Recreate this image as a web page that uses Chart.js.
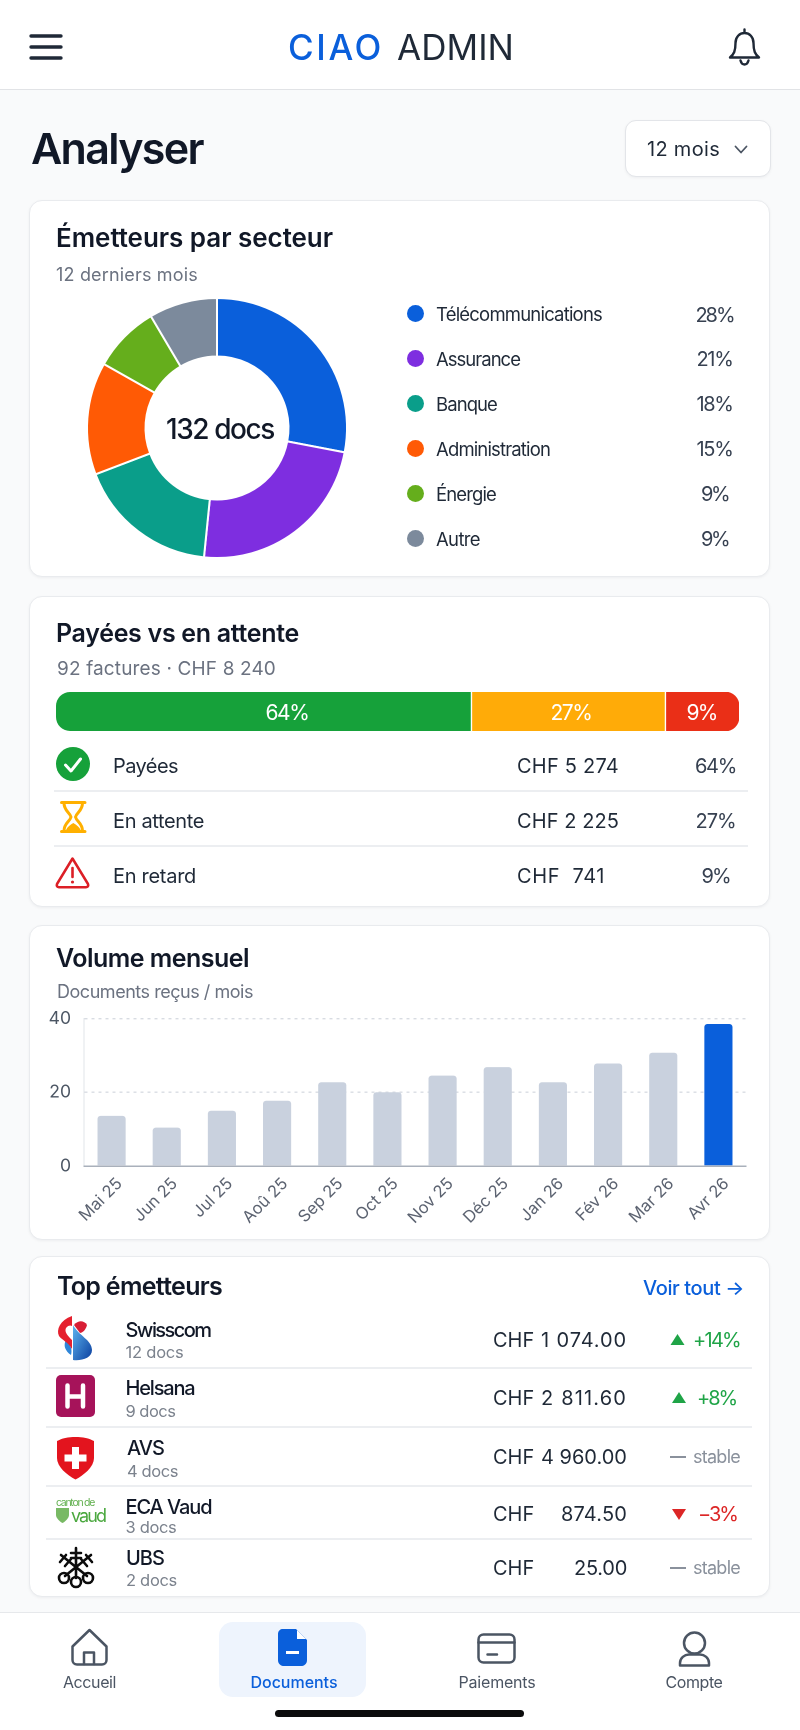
<!DOCTYPE html>
<html lang="fr"><head><meta charset="utf-8"><title>Analyser</title>
<script src="https://cdn.jsdelivr.net/npm/chart.js@4"></script>
<style>
html,body{margin:0;padding:0;background:#f9fafb;}
#page{position:relative;width:800px;height:1730px;overflow:hidden;background:#f9fafb;font-family:Inter,"Noto Sans",sans-serif;}
.box{position:absolute;box-sizing:border-box;}
.card{background:#fff;border:1px solid #e9ebee;border-radius:13px;box-shadow:0 1px 3px rgba(17,24,39,.05);}
.t{position:absolute;white-space:pre;line-height:1;}
canvas{position:absolute;display:block;}
svg{position:absolute;left:0;top:0;}
</style></head><body><div id="page">
<div class="box" style="left:0;top:0;width:800px;height:90px;background:#fff;border-bottom:1.5px solid #e1e3e6"></div>
<div class="box card" style="left:625px;top:120px;width:146px;height:57px;border-radius:11px;border-color:#e3e5e9"></div>
<div class="box card" style="left:29px;top:200px;width:741px;height:377px"></div>
<div class="box card" style="left:29px;top:596px;width:741px;height:311px"></div>
<div class="box card" style="left:29px;top:925px;width:741px;height:315px"></div>
<div class="box card" style="left:29px;top:1256px;width:741px;height:341px"></div>
<div class="box" style="left:0;top:1612px;width:800px;height:118px;background:#fff;border-top:1.5px solid #e6e8eb"></div>
<div class="box" style="left:219px;top:1622px;width:147px;height:75px;background:#eef4fd;border-radius:14px"></div>
<div class="box" style="left:275px;top:1710px;width:249px;height:7px;background:#0b0b0c;border-radius:4px"></div>
<div class="box" style="left:54px;top:790px;width:694px;height:1.5px;background:#eceef1"></div>
<div class="box" style="left:54px;top:845px;width:694px;height:1.5px;background:#eceef1"></div>
<div class="box" style="left:46px;top:1367px;width:706px;height:1.5px;background:#eceef1"></div>
<div class="box" style="left:46px;top:1426px;width:706px;height:1.5px;background:#eceef1"></div>
<div class="box" style="left:46px;top:1485px;width:706px;height:1.5px;background:#eceef1"></div>
<div class="box" style="left:46px;top:1538px;width:706px;height:1.5px;background:#eceef1"></div>

<canvas id="donut" width="270" height="270" style="left:82px;top:293px;width:270px;height:270px"></canvas>
<canvas id="split" width="683" height="39" style="left:56px;top:692px;width:683px;height:39px"></canvas>
<canvas id="volume" width="720" height="240" style="left:40px;top:995px;width:720px;height:240px"></canvas>

<svg width="800" height="1730" viewBox="0 0 800 1730" fill="none">
 <defs><linearGradient id="sw" x1="0" y1="0" x2="1" y2="1"><stop offset="0" stop-color="#5db4ef"/><stop offset="1" stop-color="#0b3f9f"/></linearGradient></defs>
 <g stroke="#1f2937" stroke-width="3.4" stroke-linecap="round"><path d="M31 36H61M31 47H61M31 58H61"/></g>
 <g stroke="#1f2937" stroke-width="2.4" stroke-linecap="round" stroke-linejoin="round">
  <path d="M744.5 29.5v3.5M735.5 43c0-6 4-10 9-10s9 4 9 10c0 8 1.500 11 5.500 14.500h-29c4-3.500 5.500-6.500 5.500-14.500z"/>
  <path d="M740.500 60.500c.8 3 2.500 4 4 4s3.200-1 4-4"/>
 </g>
 <path d="M735.500 146.500l5.500 6 5.500-6" stroke="#4b5563" stroke-width="1.800" stroke-linecap="round" stroke-linejoin="round"/>
 <circle cx="73" cy="764" r="17" fill="#16a13a"/>
 <path d="M65.500 765l5.500 6 9.500-12" stroke="#fff" stroke-width="3" stroke-linecap="round" stroke-linejoin="round"/>
 <g stroke="#ffb000" stroke-width="3" stroke-linecap="round" stroke-linejoin="round">
  <path d="M61.500 802.500H85M61.500 831.500H85"/>
  <path d="M64 803c0 8 6 9.500 7 14 -1 4.500-7 6-7 14M82.500 803c0 8-6 9.500-7 14 1 4.500 7 6 7 14"/>
 </g>
 <path d="M66 830c1-3 4-5 7.300-7 3.300 2 6.300 4 7.300 7z" fill="#ffb000"/>
 <path d="M72.500 858.500L88 884c.8 1.800-.2 3.200-2 3.200H59c-1.800 0-2.800-1.400-2-3.200z" stroke="#dc1f26" stroke-width="2.500" stroke-linejoin="round"/>
 <path d="M72.500 868v9" stroke="#dc1f26" stroke-width="2.600" stroke-linecap="round"/><circle cx="72.500" cy="882" r="1.600" fill="#dc1f26"/>
 <path d="M73 1325C79 1336 92 1340 92 1350 92 1358 82 1361 73 1360Z" fill="url(#sw)"/>
 <path d="M66 1340C72 1345 72 1351 71 1355 65 1351 63 1345 66 1340Z" fill="#2f86d8"/>
 <path d="M72 1316C60 1320 56 1330 59 1336 62 1340 68 1342 72 1349V1340C68 1336 64 1332 66 1328 68 1325 71 1325 72 1326Z" fill="#e5202e"/>
 <path d="M74 1325C78 1320 84 1320 87 1325 86 1330 82 1333 80 1333Z" fill="#d81e35"/>
 <rect x="56" y="1375" width="39" height="42" rx="5" fill="#a6135a"/>
 <path d="M67.500 1385.500V1406.500M83 1385.500V1406.500M67.500 1396.500H83" stroke="#fff" stroke-width="4.500" stroke-linecap="round"/>
 <path d="M57 1441C66 1435.500 85 1435.500 94 1441V1458C94 1467 84 1475 75.500 1479.500 67 1475 57 1467 57 1458Z" fill="#e3141e"/>
 <path d="M75.500 1447V1469M64.500 1458H86.500" stroke="#fff" stroke-width="7"/>
 <path d="M56 1508H69V1515C69 1518 65 1522 62.500 1523 60 1522 56 1518 56 1515Z" fill="#78b964"/>
 <g stroke="#0c0c0c" stroke-width="2.600" stroke-linecap="round">
  <path d="M76 1548V1578M61 1555L87 1576M91 1555L65 1576"/>
  <path d="M71 1553H81M71 1558H81M60 1562L66 1555M65 1566L71 1559M92 1562L86 1555M87 1566L81 1559"/>
  <circle cx="76" cy="1582" r="5"/><circle cx="64" cy="1578" r="5"/><circle cx="88" cy="1578" r="5"/>
 </g>
 <g stroke="#4b5563" stroke-width="2.500" stroke-linecap="round" stroke-linejoin="round">
  <path d="M89.500 1630L72.500 1646.500V1660c0 2.500 1.800 4.500 4.500 4.500h25c2.700 0 4.500-2 4.500-4.500V1646.500z"/>
  <path d="M84 1664V1652.500H94V1664"/>
  <rect x="478.500" y="1634.500" width="36" height="28" rx="5"/><path d="M478.500 1642.500H514.500M487.500 1654.500H497"/>
  <circle cx="694.500" cy="1643" r="10.500"/>
  <path d="M680 1665.500V1663c0-5 4.500-8.500 9-8.500h11c4.500 0 9 3.500 9 8.500v2.500z"/>
 </g>
 <path d="M283 1629H296L307 1640V1660C307 1664 304 1666 301 1666H284C281 1666 278 1664 278 1660V1634C278 1631 280 1629 283 1629Z" fill="#0a5fdb"/>
 <path d="M297 1630L306 1639H297Z" fill="#fff"/>
 <path d="M286 1652.500H299" stroke="#fff" stroke-width="3"/>
</svg>
<div id="texts"></div>
</div>
<script>
/* ---------- data ---------- */
const sectorLabels = ['Télécommunications','Assurance','Banque','Administration','Énergie','Autre'];
const sectorPercentLabels = ['28%','21%','18%','15%','9%','9%'];
const sectorDrawnShares = [28, 23.6, 17.6, 14, 8.3, 8.5];
const sectorColors = ['#0a5fdb','#7e2ee0','#0a9e8a','#ff5a05','#65ae1c','#7c8a9c'];

const statusLabels = ['Payées','En attente','En retard'];
const statusAmounts = ['CHF 5 274','CHF 2 225','CHF  741'];
const statusPercentLabels = ['64%','27%','9%'];
const statusDrawnShares = [60.9, 28.4, 10.7];
const statusColors = ['#16a13a','#ffab08','#ea2f17'];

const months = ['Mai 25','Jun 25','Jul 25','Aoû 25','Sep 25','Oct 25','Nov 25','Déc 25','Jan 26','Fév 26','Mar 26','Avr 26'];
const docsPerMonth = [13.6,10.4,15,17.7,22.7,20,24.5,26.8,22.7,27.8,30.7,38.5];
const yTicks = [0,20,40];

const issuers = ['Swisscom','Helsana','AVS','ECA Vaud','UBS'];
const issuerDocs = ['12 docs','9 docs','4 docs','3 docs','2 docs'];
const issuerAmounts = ['1 074.00','2 811.60','4 960.00','874.50','25.00'];
const issuerTrends = ['+14%','+8%','stable','−3%','stable'];

/* ---------- text helper: x + target width ---------- */
const host = document.getElementById('texts');
function T(s,x,cy,size,weight,color,w,anchor){
  const e=document.createElement('div');e.className='t';e.textContent=s;
  e.style.fontSize=size+'px';e.style.fontWeight=weight;e.style.color=color;
  e.style.top=(cy-size/2)+'px';e.style.left='0px';host.appendChild(e);
  if(w){const m=e.getBoundingClientRect().width;e.style.letterSpacing=((w-m)/s.length)+'px';}
  const W=e.getBoundingClientRect().width;
  e.style.left=(anchor==='c'?x-W/2:anchor==='r'?x-W:x)+'px';
  return e;
}
const INK='#111827',DARK='#1f2937',GREY='#6b7280',BLUE='#0a5fdb';
T('CIAO',288,47,35,500,BLUE,96);
T('ADMIN',397,47,35,400,DARK,117);
T('Analyser',31,148,43,600,INK,172);
T('12 mois',647,149,20,400,DARK,73);

T('Émetteurs par secteur',56,238,26,600,INK,277);
T('12 derniers mois',56,275,18,400,GREY,142);
T('132 docs',220,429,28,500,INK,108,'c');
const legendY=[314.5,359,404,449,494,539];
const legendW=[166,84,61,114,60,44];
const legendPctW=[38,36,36,36,27,27];
sectorLabels.forEach((l,i)=>{
  const d=document.createElement('div');d.className='box';
  d.style.cssText=`left:407px;top:${legendY[i]-9.500}px;width:17px;height:17px;border-radius:50%;background:${sectorColors[i]}`;
  host.appendChild(d);
  T(l,436,legendY[i],18.5,400,DARK,legendW[i]);
  T(sectorPercentLabels[i],714.500,legendY[i],20,400,'#374151',legendPctW[i],'c');
});

T('Payées vs en attente',56,633,25,600,INK,243);
T('92 factures · CHF 8 240',57,668,19,400,GREY,219);
const splitX=[287,571,701.500], splitW=[43,41,30];
statusPercentLabels.forEach((p,i)=>T(p,splitX[i],712,21,400,'#fff',splitW[i],'c'));
const statusY=[766,820.500,876], statusLW=[65,91,83], statusAW=[102,102,88], statusPW=[41,40,28];
statusLabels.forEach((l,i)=>{
  T(l,113,statusY[i],20,400,DARK,statusLW[i]);
  T(statusAmounts[i],517,statusY[i],20,400,DARK,statusAW[i]);
  T(statusPercentLabels[i],715.500,statusY[i],20,400,'#374151',statusPW[i],'c');
});

T('Volume mensuel',56,958,25,600,INK,193);
T('Documents reçus / mois',57,992,18,400,GREY,196);

T('Top émetteurs',57,1286,25,600,INK,165);
T('Voir tout →',643,1288,20,500,BLUE,101);
const nameY=[1330,1388,1448,1507,1558], subY=[1352,1411,1471,1527,1580], valY=[1340,1398,1457,1514,1568];
const nameX=[125.500,125.500,127,125.500,126], nameW=[85,69,37,86,38], docW=[58,50,51,51,51];
const trendCol={'+14%':'#1fa447','+8%':'#1fa447','stable':'#8a919c','−3%':'#dc2626'};
const trendRight=[740,736,740,737,740], trendW=[47,39,47,39,47];
const amountW=[86,86,86,66,53];
issuers.forEach((n,i)=>{
  T(n,nameX[i],nameY[i],20,500,INK,nameW[i]);
  T(issuerDocs[i],nameX[i],subY[i],16.500,400,'#7b828d',docW[i]);
  const row=T('CHF ',493,valY[i],20,400,DARK);
  const cw=row.getBoundingClientRect().width;
  const v=document.createElement('span');v.textContent=issuerAmounts[i];
  row.appendChild(v);
  const natural=v.getBoundingClientRect().width;
  v.style.letterSpacing=((amountW[i]-natural)/issuerAmounts[i].length)+'px';
  v.style.display='inline-block';v.style.width=(134-cw)+'px';v.style.textAlign='right';
  T(issuerTrends[i],trendRight[i],valY[i],issuerTrends[i]==='stable'?18:20,400,trendCol[issuerTrends[i]],trendW[i],'r');
});
T('canton de',56,1503,10.5,400,'#62b04f',38);
T('vaud',71,1516,18,400,'#4ba83f',34);

T('Accueil',89.500,1682,16,400,'#4b5563',53,'c');
T('Documents',294,1682,16,500,BLUE,87,'c');
T('Paiements',497,1682,16,400,'#4b5563',77,'c');
T('Compte',694,1682,16,400,'#4b5563',57,'c');

const ns='http://www.w3.org/2000/svg', overlay=document.querySelector('svg');
[[677.500,1340,1,'#1fa447'],[679,1398,1,'#1fa447'],[679,1514,-1,'#dc2626']].forEach(([x,y,dir,c])=>{
  const p=document.createElementNS(ns,'path');
  p.setAttribute('d',`M${x} ${y-dir*6}L${x+7} ${y+dir*5}H${x-7}Z`);p.setAttribute('fill',c);overlay.appendChild(p);
});
[1457,1568].forEach(y=>{const p=document.createElementNS(ns,'path');
  p.setAttribute('d',`M670 ${y}H686`);p.setAttribute('stroke','#8a919c');p.setAttribute('stroke-width','2');overlay.appendChild(p);});

/* ---------- charts ---------- */
Chart.defaults.font.family='Inter, "Noto Sans", sans-serif';
new Chart(document.getElementById('donut'),{
  type:'doughnut',
  data:{labels:sectorLabels,datasets:[{data:sectorDrawnShares,backgroundColor:sectorColors,borderColor:'#fff',borderWidth:2,hoverOffset:0}]},
  options:{responsive:false,animation:false,devicePixelRatio:2,cutout:'55%',layout:{padding:4},plugins:{legend:{display:false},tooltip:{enabled:false}}}
});
new Chart(document.getElementById('split'),{
  type:'bar',
  data:{labels:['Factures'],datasets:statusDrawnShares.map((v,i)=>({
    label:statusLabels[i],data:[v],backgroundColor:statusColors[i],borderColor:'#fff',
    borderWidth:i<2?{right:1.5}:0,borderSkipped:false,
    borderRadius:i===0?{topLeft:14,bottomLeft:14}:i===2?{topRight:14,bottomRight:14}:0,
    barPercentage:1,categoryPercentage:1}))},
  options:{indexAxis:'y',responsive:false,animation:false,devicePixelRatio:2,layout:{padding:0},
    scales:{x:{stacked:true,min:0,max:100,display:false},y:{stacked:true,display:false}},
    plugins:{legend:{display:false},tooltip:{enabled:false}}}
});
new Chart(document.getElementById('volume'),{
  type:'bar',
  data:{labels:months,datasets:[{data:docsPerMonth,
    backgroundColor:months.map((m,i)=>i===months.length-1?BLUE:'#c9d1de'),
    borderRadius:{topLeft:3,topRight:3},borderSkipped:'bottom',barPercentage:.51,categoryPercentage:1}]},
  options:{responsive:false,animation:false,devicePixelRatio:2,
    layout:{padding:{left:0,right:14,top:0,bottom:0}},
    scales:{
      y:{min:0,max:40,afterFit(s){s.width=44;},
        afterBuildTicks(s){s.ticks=yTicks.map(value=>({value}));},
        ticks:{font:{size:17.500},color:'#4b5563',padding:13},
        border:{color:'#e1e4e9',width:1,dash:[3,4]},
        grid:{drawTicks:false,color:c=>c.tick.value===0?'rgba(0,0,0,0)':'#d8dce2',lineWidth:1.400}},
      x:{afterFit(s){s.height=69;},
        ticks:{maxRotation:45,minRotation:45,autoSkip:false,font:{size:16.500},color:'#5b6270',padding:0,labelOffset:8},
        border:{color:'#a9b0bb',width:1.500},grid:{display:false}}
    },
    plugins:{legend:{display:false},tooltip:{enabled:false}}}
});
</script></body></html>
